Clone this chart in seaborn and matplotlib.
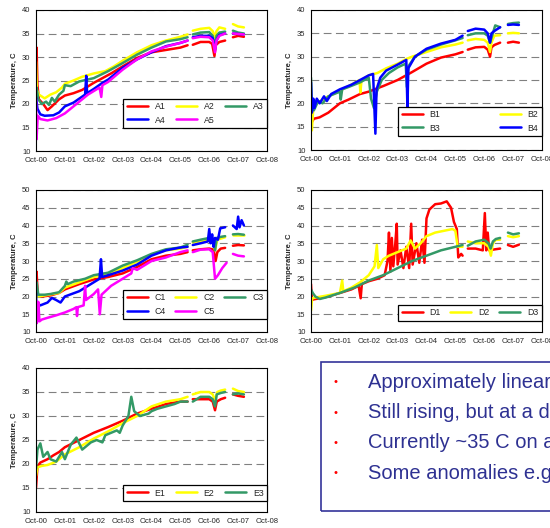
import pandas as pd
import matplotlib
matplotlib.use("Agg")
import matplotlib.pyplot as plt
import seaborn as sns
from matplotlib.patches import Rectangle

# time in years since Oct-2000, temperature in C
A1 = [(0, 22), (0.02, 32), (0.05, 24), (0.1, 21), (0.25, 20), (0.4, 18.7), (0.55, 19.5), (0.8, 21), (1.0, 21.8),
      (1.3, 22.3), (1.6, 23), (2.0, 24.5), (2.3, 25.5), (2.6, 26.5), (3.0, 28), (3.5, 29.8), (4.0, 31), (4.5, 31.5),
      (4.8, 31.8), (5.0, 32), (5.25, 32.5), (5.43, 32.6), (5.7, 33.2), (6.0, 33.2), (6.1, 32.8), (6.18, 30.2),
      (6.22, 32.5), (6.35, 33.2), (6.55, 33.5), (6.82, 34.2), (7.0, 34.5), (7.2, 34.3)]
A2 = [(0, 29), (0.03, 23), (0.1, 22), (0.3, 21.2), (0.5, 22), (0.7, 22.5), (0.9, 23.5), (1.0, 24.3), (1.3, 25),
      (1.6, 25.8), (2.0, 26.5), (2.4, 27), (2.7, 28), (3.0, 29.2), (3.5, 31), (4.0, 32.5), (4.5, 33.5), (5.0, 34.3),
      (5.25, 34.8), (5.43, 35.6), (5.7, 36), (6.0, 36.2), (6.12, 35.5), (6.2, 34.2), (6.25, 35.5), (6.35, 36.3),
      (6.55, 36), (6.82, 37), (7.0, 36.5), (7.2, 36.3)]
A3 = [(0, 22), (0.02, 23.5), (0.08, 21), (0.2, 20), (0.35, 20.5), (0.45, 19.8), (0.55, 21.3), (0.65, 20.5),
      (0.8, 22), (0.95, 22.8), (1.0, 24), (1.2, 23.8), (1.5, 24.8), (2.0, 25.5), (2.5, 27), (3.0, 28.7), (3.5, 30.5),
      (4.0, 32), (4.5, 33.3), (5.0, 33.8), (5.25, 34.2), (5.43, 34.8), (5.7, 35.2), (6.0, 35.3), (6.12, 34.5),
      (6.2, 32), (6.25, 34.5), (6.35, 35.2), (6.55, 35.4), (6.82, 35.6), (7.0, 35.2), (7.2, 35)]
A4 = [(0, 21.5), (0.05, 19), (0.15, 17.8), (0.3, 17.5), (0.6, 17.6), (0.8, 18.2), (1.0, 19.5), (1.3, 20.3),
      (1.7, 22), (1.74, 26), (1.77, 22.3), (2.0, 23.2), (2.3, 24.5), (2.5, 25.2), (3.0, 27.7), (3.5, 29.5), (4.0, 31),
      (4.5, 32.3), (5.0, 33), (5.25, 33.5), (5.43, 34.2), (5.7, 34.5), (6.0, 34.5), (6.12, 34), (6.2, 31.5),
      (6.25, 33.5), (6.35, 34.7), (6.55, 35), (6.82, 35), (7.0, 34.9), (7.2, 34.8)]
A5 = [(0, 21), (0.02, 12.5), (0.06, 17.5), (0.15, 16.8), (0.4, 16.5), (0.7, 17), (1.0, 18), (1.4, 20), (1.8, 22),
      (2.2, 23.5), (2.26, 21.5), (2.3, 24), (2.5, 24.7), (3.0, 27.3), (3.5, 29.5), (4.0, 31.2), (4.5, 32.2), (5.0, 33),
      (5.25, 33.5), (5.43, 34), (5.7, 34.3), (6.0, 34.2), (6.12, 33.5), (6.2, 31), (6.25, 33.5), (6.35, 34.5),
      (6.55, 35), (6.82, 35), (7.0, 34.9), (7.2, 34.8)]

B1 = [(0, 17.5), (0.03, 16), (0.1, 16.7), (0.3, 17), (0.6, 18), (0.8, 19), (1.0, 20), (1.3, 20.8), (1.7, 22),
      (2.0, 22.5), (2.2, 23), (2.5, 23.7), (3.0, 25), (3.5, 26.7), (4.0, 28.5), (4.5, 29.8), (5.0, 30.5), (5.25, 31),
      (5.43, 31.5), (5.7, 32), (6.0, 32.1), (6.12, 31.5), (6.2, 30), (6.25, 32), (6.35, 32.5), (6.55, 33),
      (6.82, 33), (7.0, 33.2), (7.2, 33)]
B2 = [(0, 16), (0.03, 14.2), (0.08, 19), (0.2, 20), (0.4, 20.8), (0.6, 21.5), (1.0, 22.7), (1.4, 24), (1.68, 25),
      (1.71, 22.3), (1.75, 25), (2.0, 26), (2.3, 26.5), (2.6, 27.5), (3.0, 28.5), (3.3, 29.5), (3.5, 30), (4.0, 31),
      (4.5, 32), (5.0, 32.6), (5.25, 33), (5.43, 33.5), (5.7, 33.8), (6.0, 33.6), (6.12, 33), (6.2, 31), (6.25, 33),
      (6.35, 34.5), (6.55, 34.6), (6.82, 35), (7.0, 35.1), (7.2, 35)]
B3 = [(0, 25.5), (0.03, 20), (0.1, 18.5), (0.25, 20.5), (0.4, 20), (0.6, 21.5), (0.8, 22), (1.0, 22.5),
      (1.03, 20.8), (1.08, 23), (1.3, 23.5), (1.7, 24.5), (2.0, 25.5), (2.08, 21), (2.18, 19), (2.28, 22.5),
      (2.45, 25), (2.7, 26.5), (3.0, 27.7), (3.28, 28.5), (3.32, 23.5), (3.38, 28), (3.6, 30), (4.0, 31.5),
      (4.5, 32.6), (5.0, 33.5), (5.25, 34), (5.43, 34.6), (5.7, 35), (6.0, 35), (6.12, 34.5), (6.2, 33), (6.25, 34),
      (6.38, 36.7), (6.55, 36.3), (6.82, 37), (7.0, 37.2), (7.2, 37.3)]
B4 = [(0, 24.5), (0.03, 18), (0.08, 21), (0.12, 19), (0.2, 21), (0.3, 20), (0.45, 21.5), (0.55, 20.5), (0.7, 22),
      (1.0, 23), (1.4, 24), (1.7, 25), (2.0, 26), (2.15, 26.3), (2.23, 13.5), (2.27, 23), (2.4, 25.5), (2.6, 27),
      (3.0, 28.3), (3.3, 29.3), (3.34, 19), (3.37, 27.5), (3.6, 30), (4.0, 31.7), (4.5, 32.8), (5.0, 33.6),
      (5.25, 34.5), (5.43, 35.5), (5.7, 36), (6.0, 35.8), (6.12, 35), (6.2, 33), (6.25, 35), (6.35, 35.5),
      (6.55, 36.3), (6.82, 36.8), (7.0, 36.9), (7.2, 36.8)]

C1 = [(0, 21), (0.02, 27), (0.06, 20.5), (0.2, 20), (0.5, 20.3), (0.8, 21), (1.0, 22), (1.5, 23.5), (2.0, 24.8),
      (2.5, 25.5), (3.0, 26.5), (3.5, 28.3), (4.0, 30.5), (4.5, 31.5), (5.0, 32), (5.25, 32.5), (5.43, 33),
      (5.7, 33.3), (6.0, 33.5), (6.15, 33.2), (6.22, 30), (6.28, 32.5), (6.4, 33.5), (6.55, 33.7), (6.82, 34.3),
      (7.0, 34.5), (7.2, 34.4)]
C2 = [(0, 22), (0.05, 20), (0.3, 20.3), (0.8, 21), (1.0, 22.5), (1.5, 24), (2.0, 25.5), (2.5, 26.3), (3.0, 28),
      (3.5, 29.8), (4.0, 31.8), (4.5, 33), (5.0, 33.5), (5.25, 34), (5.43, 35.2), (5.7, 35.6), (6.0, 36),
      (6.15, 35.5), (6.2, 33), (6.28, 36), (6.55, 36.7), (6.82, 37.2), (7.2, 37.2)]
C3 = [(0, 20), (0.02, 24), (0.08, 20.5), (0.3, 20.5), (0.5, 20.7), (0.8, 21.2), (1.0, 23), (1.05, 24.2),
      (1.1, 23.5), (1.3, 24.2), (1.7, 25), (2.0, 26), (2.5, 26.7), (3.0, 28.7), (3.5, 30.2), (4.0, 32), (4.5, 33.3),
      (5.0, 33.8), (5.25, 34.6), (5.43, 35.5), (5.7, 36), (6.0, 36.5), (6.15, 36), (6.2, 33), (6.26, 36.5),
      (6.4, 36.8), (6.55, 37), (6.82, 37.5), (7.0, 37.6), (7.2, 37.4)]
C4 = [(0, 21), (0.02, 15.5), (0.06, 18), (0.15, 17.5), (0.4, 18.3), (0.55, 19.6), (0.7, 19), (0.85, 18.3),
      (1.0, 20), (1.5, 21.5), (2.0, 24), (2.2, 25), (2.25, 30.5), (2.29, 25.5), (2.5, 26), (3.0, 27.3), (3.5, 29),
      (4.0, 31.5), (4.5, 33), (5.0, 33.8), (5.25, 34), (5.43, 34.5), (5.7, 35), (5.95, 35.5), (6.0, 39),
      (6.05, 35), (6.1, 37.5), (6.15, 34), (6.2, 36.5), (6.3, 36), (6.38, 39.2), (6.55, 39.5), (6.82, 40),
      (6.95, 39), (7.0, 42.5), (7.05, 39.5), (7.12, 41.5), (7.2, 40)]
C5 = [(0, 19), (0.03, 12.5), (0.08, 18.5), (0.12, 13), (0.2, 13.5), (0.4, 14), (0.7, 14.7), (1.0, 15.5),
      (1.3, 16.5), (1.4, 17), (1.42, 14.5), (1.45, 17), (1.65, 17.5), (1.7, 23), (1.73, 19), (2.0, 20.7),
      (2.15, 22), (2.21, 15), (2.27, 20.5), (2.6, 23), (3.0, 25), (3.3, 26.5), (3.35, 28), (3.5, 27.5), (4.0, 30),
      (4.5, 31), (5.0, 32.5), (5.25, 33), (5.43, 32.5), (5.7, 33.2), (6.0, 33.3), (6.12, 32.5), (6.2, 25),
      (6.3, 26), (6.45, 28), (6.6, 29.5), (6.82, 32), (7.0, 31.5), (7.2, 31.3)]

D1 = [(0, 23.5), (0.03, 19), (0.1, 19.2), (0.3, 19.5), (0.6, 20), (1.0, 21), (1.4, 22), (1.65, 23), (1.72, 19.5),
      (1.76, 23.5), (2.0, 24.3), (2.3, 25), (2.55, 26), (2.65, 30), (2.7, 38), (2.75, 27), (2.8, 36.5), (2.85, 28.5),
      (2.92, 35), (2.97, 40.5), (3.0, 29), (3.1, 33), (3.2, 28), (3.3, 34), (3.4, 28), (3.47, 40.5), (3.52, 29),
      (3.65, 35), (3.75, 29.5), (3.85, 36), (3.93, 29.5), (4.0, 42), (4.1, 44.5), (4.3, 46), (4.5, 46.2),
      (4.7, 46.8), (4.85, 45), (4.95, 41), (5.05, 39), (5.1, 31), (5.2, 32), (5.25, 31.5), (5.43, 33.5),
      (5.7, 33.5), (5.95, 33), (6.02, 43.5), (6.07, 33), (6.12, 38), (6.17, 33), (6.3, 33.2), (6.55, 33.5),
      (6.82, 34.5), (7.0, 34), (7.2, 34.6)]
D2 = [(0, 16), (0.04, 19.5), (0.15, 19.7), (0.5, 20.2), (1.0, 21), (1.08, 24.5), (1.12, 21.5), (1.4, 22.5),
      (1.7, 24), (2.0, 26), (2.2, 28.5), (2.28, 34.5), (2.33, 28), (2.5, 30.5), (2.7, 31.5), (3.0, 32.5),
      (3.3, 33.5), (3.45, 35.8), (3.6, 33.5), (3.8, 35), (4.0, 37), (4.3, 38), (4.6, 38.5), (4.9, 39), (5.0, 38.5),
      (5.08, 34), (5.25, 34), (5.43, 35.5), (5.7, 35), (6.0, 35), (6.15, 34), (6.23, 31.5), (6.3, 35), (6.4, 36),
      (6.55, 36), (6.82, 37), (7.0, 36.7), (7.2, 37)]
D3 = [(0, 22), (0.06, 21), (0.15, 20), (0.3, 19.3), (0.5, 19.7), (1.0, 21), (1.5, 22.5), (2.0, 24.5), (2.5, 26),
      (3.0, 28), (3.5, 30), (4.0, 31.5), (4.5, 33), (5.0, 34), (5.25, 34.5), (5.43, 34.3), (5.7, 35.5), (6.0, 36),
      (6.15, 35), (6.22, 33.5), (6.3, 35.5), (6.4, 36.2), (6.55, 36.5), (6.82, 38), (7.0, 37.5), (7.2, 37.8)]

E1 = [(0, 15), (0.05, 19.5), (0.15, 20.3), (0.4, 21), (0.6, 21.8), (0.8, 22.5), (1.0, 23.5), (1.5, 25),
      (2.0, 26.5), (2.5, 27.7), (3.0, 29), (3.5, 30.5), (4.0, 31.5), (4.5, 32.5), (5.0, 33), (5.25, 33),
      (5.43, 33.5), (5.7, 33.5), (6.0, 33.5), (6.12, 33), (6.2, 31.2), (6.26, 33), (6.4, 33.5), (6.55, 33.8),
      (6.82, 34.5), (7.0, 34.2), (7.2, 34)]
E2 = [(0, 17.5), (0.05, 19.3), (0.2, 19.6), (0.4, 19.8), (0.7, 20.5), (1.0, 22), (1.5, 23.5), (2.0, 25.3),
      (2.5, 26.8), (3.0, 28.5), (3.5, 30), (4.0, 32), (4.5, 33), (5.0, 33.5), (5.25, 34), (5.43, 34.5), (5.7, 35),
      (6.0, 35), (6.12, 34.5), (6.2, 33.3), (6.28, 35), (6.4, 35.3), (6.55, 35.5), (6.82, 35.7), (7.0, 35.2),
      (7.2, 35)]
E3 = [(0, 19), (0.05, 23), (0.15, 24.3), (0.25, 21.5), (0.4, 22.5), (0.5, 21), (0.7, 20.5), (0.9, 22.5),
      (1.0, 21), (1.2, 24), (1.4, 25.5), (1.6, 23), (1.9, 24.5), (2.1, 25), (2.3, 24.5), (2.4, 26), (2.6, 26.5),
      (2.8, 27), (2.9, 26.5), (3.0, 28), (3.2, 30), (3.3, 34), (3.4, 31), (3.6, 30), (3.9, 30.5), (4.0, 31),
      (4.2, 31.5), (4.5, 32), (4.8, 32.5), (5.0, 33), (5.25, 33), (5.43, 33), (5.7, 34), (6.0, 34), (6.12, 33.5),
      (6.2, 32), (6.26, 34.5), (6.4, 34.8), (6.55, 35), (6.82, 34.5), (7.0, 34.7), (7.2, 34.5)]

xticklabels = ["Oct-00", "Oct-01", "Oct-02", "Oct-03", "Oct-04", "Oct-05", "Oct-06", "Oct-07", "Oct-08"]
bullets = ["Approximately linear rise from 2000 to 2004",
           "Still rising, but at a decreasing rate",
           "Currently ~35 C on average",
           "Some anomalies e.g. D1 and C4"]

RED, YEL, GRN, BLU, MAG = "#ff0000", "#ffff00", "#339966", "#0000ff", "#ff00ff"

panels = [
    ({"A1": A1, "A2": A2, "A3": A3, "A4": A4, "A5": A5}, [RED, YEL, GRN, BLU, MAG], 40, 3,
     [36, 10, 267, 151], (0.377, 0.163, 0.623, 0.187)),
    ({"B1": B1, "B2": B2, "B3": B3, "B4": B4}, [RED, YEL, GRN, BLU], 40, 2,
     [311, 10, 542, 150], (0.377, 0.10, 0.623, 0.21)),
    ({"C1": C1, "C2": C2, "C3": C3, "C4": C4, "C5": C5}, [RED, YEL, GRN, BLU, MAG], 50, 3,
     [36, 190, 267, 332], (0.377, 0.09, 0.623, 0.21)),
    ({"D1": D1, "D2": D2, "D3": D3}, [RED, YEL, GRN], 50, 3,
     [311, 190, 542, 332], (0.377, 0.08, 0.623, 0.19)),
    ({"E1": E1, "E2": E2, "E3": E3}, [RED, YEL, GRN], 40, 3,
     [36, 368, 267, 512], (0.377, 0.076, 0.623, 0.20)),
]


def frame(series):
    rows = []
    for name, pts in series.items():
        for t, v in pts:
            seg = 0 if t < 5.35 else (1 if t < 6.7 else 2)
            rows.append((name, t, v, seg))
    return pd.DataFrame(rows, columns=["sensor", "t", "temp", "seg"])


def row_major(items, ncol):
    # matplotlib fills legend columns first; reorder so entries read across rows
    nrow = -(-len(items) // ncol)
    return [items[r * ncol + c] for c in range(ncol) for r in range(nrow) if r * ncol + c < len(items)]


sns.set_style("white")
plt.rcParams["font.family"] = ["Liberation Sans", "DejaVu Sans"]

W, H = 550, 528
fig = plt.figure(figsize=(5.5, 5.28), dpi=100)

for series, colors, ymax, ncol, box, leg in panels:
    x0, y0, x1, y1 = box
    ax = fig.add_axes([x0 / W, 1 - y1 / H, (x1 - x0) / W, (y1 - y0) / H])
    df = frame(series)
    sns.lineplot(data=df, x="t", y="temp", hue="sensor", units="seg", estimator=None,
                 palette=colors, sort=False, linewidth=1.8, ax=ax)
    ax.set_xlim(0, 8)
    ax.set_ylim(10, ymax)
    ax.set_xticks(range(9))
    ax.set_xticklabels(xticklabels)
    ax.set_yticks(range(10, ymax + 1, 5))
    ax.tick_params(labelsize=5.5, length=2, width=0.6, pad=2)
    ax.set_xlabel("")
    ax.set_ylabel("Temperature, C", fontsize=5.5, fontweight="bold", labelpad=3)
    ax.yaxis.grid(True, linestyle=(0, (7, 4)), color="#808080", linewidth=0.8)
    ax.set_axisbelow(True)
    for s in ax.spines.values():
        s.set_color("black")
        s.set_linewidth(0.8)
    h, l = ax.get_legend_handles_labels()
    lg = ax.legend(row_major(h, ncol), row_major(l, ncol), ncol=ncol, loc="lower left",
                   bbox_to_anchor=leg, mode="expand", fontsize=6.3, fancybox=False, framealpha=1,
                   edgecolor="black", handlelength=2.4, borderaxespad=0, columnspacing=1.0)
    lg.get_frame().set_linewidth(0.9)
    for ln in lg.get_lines():
        ln.set_linewidth(1.8)

# text box with bullet notes
fig.patches.append(Rectangle((321 / W, 1 - 511 / H), 0.5, (511 - 362) / H, transform=fig.transFigure,
                             fill=False, edgecolor="#333399", linewidth=1.2))
for i, txt in enumerate(bullets):
    y = 1 - (382 + i * 30.5) / H
    fig.text(336 / W, y, "•", color="red", fontsize=8, va="center", ha="center")
    fig.text(368 / W, y, txt, color="#2e3192", fontsize=14.5, va="center", ha="left")

fig.savefig("out.png", dpi=100)
